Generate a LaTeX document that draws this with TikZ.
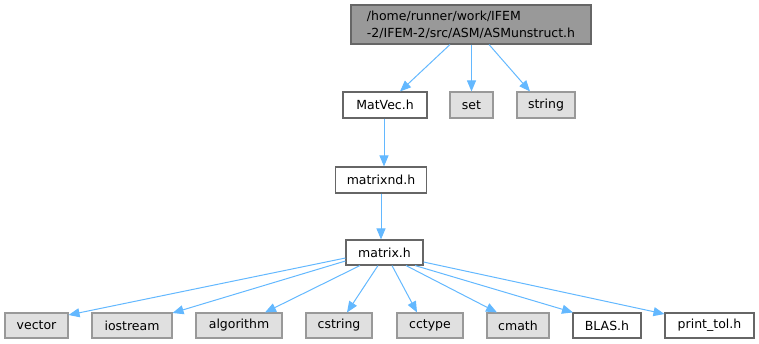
\documentclass[tikz,border=0pt]{standalone}
\usepackage{fontspec}
\setmainfont{DejaVu Sans}
\usetikzlibrary{arrows.meta}
\definecolor{edgeblue}{HTML}{63B8FF}
\definecolor{topfill}{HTML}{999999}
\definecolor{topdraw}{HTML}{666666}
\definecolor{sysfill}{HTML}{E0E0E0}
\definecolor{sysdraw}{HTML}{999999}
\begin{document}
\begin{tikzpicture}[x=1pt,y=-1pt,
  base/.style={draw, line width=1.1pt, inner sep=0pt, anchor=center, font=\fontsize{12.5}{17}\selectfont},
  topnode/.style={base, fill=topfill, draw=topdraw, align=left},
  filenode/.style={base, fill=white, draw=topdraw},
  sysnode/.style={base, fill=sysfill, draw=sysdraw},
  edge/.style={draw=edgeblue, line width=1pt, -{Triangle[length=11pt,width=9pt,fill=edgeblue]}}
]
\useasboundingbox (0,0) rectangle (759,344);
\node[topnode, minimum width=240pt, minimum height=39pt] (top) at (471,24.5) {/home/runner/work/IFEM\\-2/IFEM-2/src/ASM/ASMunstruct.h};
\node[filenode, minimum width=84pt, minimum height=26pt] (matvec) at (385,105) {MatVec.h};
\node[sysnode, minimum width=43pt, minimum height=26pt] (set) at (471.5,105) {set};
\node[sysnode, minimum width=58pt, minimum height=26pt] (string) at (546,105) {string};
\node[filenode, minimum width=91pt, minimum height=26pt] (matrixnd) at (381,180) {matrixnd.h};
\node[filenode, minimum width=77pt, minimum height=25pt] (matrix) at (384.5,252.5) {matrix.h};
\node[sysnode, minimum width=63pt, minimum height=25pt] (vector) at (36.5,325.5) {vector};
\node[sysnode, minimum width=80pt, minimum height=25pt] (iostream) at (132,325.5) {iostream};
\node[sysnode, minimum width=86pt, minimum height=25pt] (algorithm) at (239,325.5) {algorithm};
\node[sysnode, minimum width=66pt, minimum height=25pt] (cstring) at (339,325.5) {cstring};
\node[sysnode, minimum width=66pt, minimum height=25pt] (cctype) at (430,325.5) {cctype};
\node[sysnode, minimum width=62pt, minimum height=25pt] (cmath) at (518,325.5) {cmath};
\node[filenode, minimum width=68pt, minimum height=25pt] (blas) at (607,325.5) {BLAS.h};
\node[filenode, minimum width=89pt, minimum height=25pt] (printtol) at (709.5,325.5) {print\_tol.h};

\draw[edge] (top.south -| 450,0) -- (matvec.north -| 400,0);
\draw[edge] (top.south -| 471.5,0) -- (set.north);
\draw[edge] (top.south -| 489,0) -- (string.north -| 530,0);
\draw[edge] (matvec.south -| 384,0) -- (matrixnd.north -| 384,0);
\draw[edge] (matrixnd.south -| 381,0) -- (matrix.north -| 381,0);
\draw[edge] (matrix.west |- 0,258) -- (vector.east |- 0,315);
\draw[edge] (matrix.west |- 0,261) -- (iostream.east |- 0,313);
\draw[edge] (matrix.south -| 360,0) -- (algorithm.north -| 265,0);
\draw[edge] (matrix.south -| 378,0) -- (cstring.north -| 347,0);
\draw[edge] (matrix.south -| 392,0) -- (cctype.north -| 417,0);
\draw[edge] (matrix.south -| 406,0) -- (cmath.north -| 497,0);
\draw[edge] (matrix.south -| 415,0) -- (blas.north -| 573,0);
\draw[edge] (matrix.east |- 0,262) -- (printtol.west |- 0,314);
\end{tikzpicture}
\end{document}
